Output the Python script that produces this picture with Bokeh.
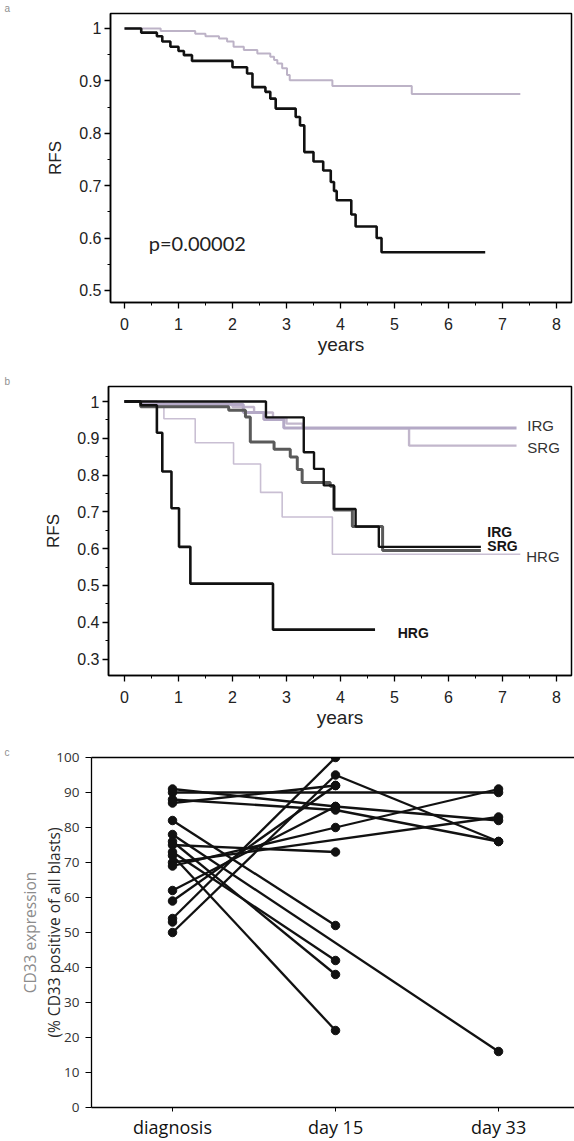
import math
from bokeh.plotting import figure
from bokeh.models import (Range1d, FixedTicker, Label, LinearAxis, Title,
                          ColumnDataSource, CustomJSTickFormatter)
from bokeh.embed import file_html
from bokeh.resources import INLINE
from bokeh.core.properties import value

# ---------------- data ----------------
# panel a : Kaplan-Meier RFS, two groups
a_high_years = [0, 0.31, 0.6, 0.7, 0.85, 1.0, 1.1, 1.25, 2.0, 2.27, 2.37, 2.61, 2.7, 2.8,
                3.17, 3.25, 3.33, 3.5, 3.68, 3.82, 3.88, 3.93, 4.2, 4.28, 4.67, 4.76, 6.68]
a_high_rfs = [1.0, 0.992, 0.985, 0.975, 0.965, 0.957, 0.949, 0.938, 0.926, 0.914, 0.888, 0.879,
              0.866, 0.847, 0.831, 0.815, 0.764, 0.746, 0.729, 0.707, 0.69, 0.672, 0.645, 0.622,
              0.6, 0.573, 0.573]
a_low_years = [0, 0.67, 1.31, 1.5, 1.75, 1.9, 2.02, 2.21, 2.46, 2.7, 2.77, 2.83, 2.92, 3.01,
               3.06, 3.85, 5.32, 7.33]
a_low_rfs = [1.0, 0.995, 0.99, 0.985, 0.981, 0.975, 0.965, 0.959, 0.952, 0.946, 0.94, 0.933,
             0.924, 0.911, 0.901, 0.89, 0.875, 0.875]
a_pvalue = "p=0.00002"
a_yticks = [0.5, 0.6, 0.7, 0.8, 0.9, 1.0]

# panel b : RFS by risk group (high / low CD33)
b_irg_high_years = [0, 2.62, 3.32, 3.51, 3.69, 3.88, 4.28, 4.71, 6.6]
b_irg_high_rfs = [1.0, 0.957, 0.862, 0.817, 0.772, 0.708, 0.66, 0.605, 0.605]
b_srg_high_years = [0, 0.3, 1.93, 2.24, 2.33, 2.77, 3.07, 3.2, 3.29, 3.81, 3.88, 4.22, 4.78, 6.6]
b_srg_high_rfs = [1.0, 0.986, 0.976, 0.958, 0.89, 0.87, 0.849, 0.815, 0.78, 0.77, 0.705, 0.66,
                  0.595, 0.595]
b_hrg_high_years = [0, 0.3, 0.6, 0.7, 0.87, 1.01, 1.22, 2.75, 4.64]
b_hrg_high_rfs = [1.0, 0.99, 0.915, 0.81, 0.71, 0.605, 0.505, 0.38, 0.38]
b_irg_low_years = [0, 0.3, 2.2, 2.58, 2.95, 7.26]
b_irg_low_rfs = [1.0, 0.992, 0.97, 0.951, 0.928, 0.928]
b_srg_low_years = [0, 0.6, 2.0, 2.4, 2.75, 3.0, 3.3, 5.27, 7.26]
b_srg_low_rfs = [1.0, 0.995, 0.985, 0.97, 0.955, 0.94, 0.927, 0.88, 0.88]
b_hrg_low_years = [0, 0.73, 1.31, 2.02, 2.52, 2.92, 3.85, 7.33]
b_hrg_low_rfs = [1.0, 0.953, 0.888, 0.83, 0.753, 0.686, 0.585, 0.585]
b_yticks = [0.3, 0.4, 0.5, 0.6, 0.7, 0.8, 0.9, 1.0]
b_label_text = ["IRG", "SRG", "IRG", "SRG", "HRG", "HRG"]
b_label_years = [7.46, 7.46, 6.72, 6.72, 7.44, 5.06]
b_label_rfs = [0.935, 0.875, 0.645, 0.607, 0.578, 0.37]

# panel c : CD33 expression per patient
c_timepoints = ["diagnosis", "day 15", "day 33"]
nan = float("nan")
c_diagnosis = [91, 90, 88, 87, 82, 78, 76, 73, 72, 75, 70, 69, 62, 59, 54, 53, 50]
c_day15 = [86, nan, 85, 92, 52, nan, 38, 42, 22, 73, nan, 80, 86, 92, 100, nan, 95]
c_day33 = [82, 90, 76, nan, nan, 16, nan, nan, nan, nan, 83, 91, nan, nan, nan, nan, 76]
c_yticks = [0, 10, 20, 30, 40, 50, 60, 70, 80, 90, 100]
c_ylabel_main = "(% CD33 positive of all blasts)"
c_ylabel_top = "CD33 expression"

# ---------------- styling helpers ----------------
FA = "Liberation Sans"
FC = "Open Sans"


def km_axes(p, yticks):
    p.xaxis.ticker = FixedTicker(ticks=list(range(0, 9)),
                                 minor_ticks=[i + 0.5 for i in range(0, 8)])
    p.yaxis.ticker = FixedTicker(ticks=yticks,
                                 minor_ticks=[t + 0.05 for t in yticks[:-1]])
    p.yaxis.formatter = CustomJSTickFormatter(
        code="return Math.abs(tick - 1) < 1e-9 ? '1' : tick.toFixed(1);")
    for ax in (p.xaxis[0], p.yaxis[0]):
        ax.major_tick_in = 0
        ax.major_tick_out = 6
        ax.minor_tick_in = 0
        ax.minor_tick_out = 3
        ax.axis_line_color = "black"
        ax.axis_line_width = 1.5
        ax.major_tick_line_color = "black"
        ax.major_tick_line_width = 1.3
        ax.minor_tick_line_color = "black"
        ax.major_label_text_font = FA
        ax.major_label_text_font_size = "16px"
        ax.major_label_text_color = "#222222"
        ax.axis_label_text_font = FA
        ax.axis_label_text_font_style = "normal"
        ax.axis_label_text_color = "#222222"
    p.xaxis.axis_label = "years"
    p.xaxis.axis_label_text_font_size = "19px"
    p.xaxis.major_label_standoff = 9
    p.xaxis.axis_label_standoff = 1
    p.yaxis.axis_label = "RFS"
    p.yaxis.axis_label_text_font_size = "17px"
    p.yaxis.major_label_standoff = 3
    p.yaxis.axis_label_standoff = 11
    p.grid.visible = False
    p.outline_line_color = "black"
    p.outline_line_width = 1.5
    p.background_fill_color = "white"
    p.border_fill_color = "white"


def panel_letter(p, letter, frame_left):
    p.add_layout(Title(text=letter, align="left", offset=4 - frame_left, standoff=0,
                       text_font=FA, text_font_size="10px", text_font_style="normal",
                       text_color="#8f8f8f"), "above")


# ---------------- panel a ----------------
pa = figure(width=574, height=373, x_range=Range1d(-0.259, 8.278),
            y_range=Range1d(0.477, 1.0285), output_backend="svg",
            toolbar_location=None, min_border_left=110, min_border_right=3,
            min_border_top=12, min_border_bottom=71)
km_axes(pa, a_yticks)
pa.step(a_low_years, a_low_rfs, mode="after", line_color="#bdb3c7", line_width=2)
pa.step(a_high_years, a_high_rfs, mode="after", line_color="#111111", line_width=2.6)
pa.add_layout(Label(x=0.45, y=0.59, text=a_pvalue, text_baseline="middle",
                    text_font="Lato", text_font_size="20px", text_color="#222222"))
panel_letter(pa, "a", 110)

# ---------------- panel b ----------------
pb = figure(width=574, height=360, x_range=Range1d(-0.296, 8.278),
            y_range=Range1d(0.2554, 1.0408), output_backend="svg",
            toolbar_location=None, min_border_left=108, min_border_right=3,
            min_border_top=13, min_border_bottom=58)
km_axes(pb, b_yticks)
pb.step(b_hrg_low_years, b_hrg_low_rfs, mode="after", line_color="#c9bfd3", line_width=1.6)
pb.step(b_srg_low_years, b_srg_low_rfs, mode="after", line_color="#c2b7cc", line_width=2.4)
pb.step(b_irg_low_years, b_irg_low_rfs, mode="after", line_color="#b4a9c6", line_width=3)
pb.step(b_srg_high_years, b_srg_high_rfs, mode="after", line_color="#5a5a5a", line_width=3)
pb.step(b_irg_high_years, b_irg_high_rfs, mode="after", line_color="#111111", line_width=2.4)
pb.step(b_hrg_high_years, b_hrg_high_rfs, mode="after", line_color="#111111", line_width=2.6)

normal_idx = [0, 1, 4]
bold_idx = [2, 3, 5]
src_n = ColumnDataSource(dict(x=[b_label_years[i] for i in normal_idx],
                              y=[b_label_rfs[i] for i in normal_idx],
                              t=[b_label_text[i] for i in normal_idx]))
src_b = ColumnDataSource(dict(x=[b_label_years[i] for i in bold_idx],
                              y=[b_label_rfs[i] for i in bold_idx],
                              t=[b_label_text[i] for i in bold_idx]))
pb.text(x="x", y="y", text="t", source=src_n, text_font=value(FA),
        text_font_size="15px", text_color="#333333", text_baseline="middle",
        text_align="left")
pb.text(x="x", y="y", text="t", source=src_b, text_font=value(FA),
        text_font_size="14px", text_font_style="bold", text_color="#151515",
        text_baseline="middle", text_align="left")
panel_letter(pb, "b", 108)

# ---------------- panel c ----------------
pc = figure(width=574, height=408, x_range=Range1d(-0.497, 2.466),
            y_range=Range1d(0, 100), output_backend="svg", toolbar_location=None,
            min_border_left=91, min_border_right=0, min_border_top=24,
            min_border_bottom=34)
pc.grid.visible = False
pc.outline_line_color = None

x0, y0, x1, y1 = [], [], [], []
px, py = [], []
for vals in zip(c_diagnosis, c_day15, c_day33):
    pts = [(i, v) for i, v in enumerate(vals) if not math.isnan(v)]
    for (xa_, ya_), (xb_, yb_) in zip(pts[:-1], pts[1:]):
        x0.append(xa_); y0.append(ya_); x1.append(xb_); y1.append(yb_)
    for xa_, ya_ in pts:
        px.append(xa_); py.append(ya_)

pc.segment(x0=x0, y0=y0, x1=x1, y1=y1, line_color="#111111", line_width=2.3)
pc.scatter(px, py, size=8.5, color="#111111")

xa = pc.xaxis[0]
xa.ticker = FixedTicker(ticks=[0, 1, 2])
xa.major_label_overrides = {i: lab for i, lab in enumerate(c_timepoints)}
xa.major_tick_in = 0
xa.major_tick_out = 4
xa.minor_tick_line_color = None
xa.major_label_standoff = 3
xa.major_label_text_font = FC
xa.major_label_text_font_size = "18px"
xa.major_label_text_color = "#111111"
xa.axis_line_color = "black"
xa.axis_line_width = 1.3

ya = pc.yaxis[0]
ya.ticker = FixedTicker(ticks=c_yticks)
ya.minor_tick_line_color = None
ya.major_tick_in = 0
ya.major_tick_out = 6
ya.major_label_standoff = 6
ya.major_label_text_font = FC
ya.major_label_text_font_size = "13.5px"
ya.major_label_text_color = "#333333"
ya.axis_line_color = "black"
ya.axis_line_width = 1.3
ya.axis_label = c_ylabel_main
ya.axis_label_text_font = FC
ya.axis_label_text_font_style = "normal"
ya.axis_label_text_font_size = "15.5px"
ya.axis_label_text_color = "#2a2a2a"
ya.axis_label_standoff = -12

ya2 = LinearAxis(ticker=FixedTicker(ticks=[]), axis_line_color=None,
                 major_tick_line_color=None, minor_tick_line_color=None,
                 major_tick_out=0, major_tick_in=0, major_label_standoff=0,
                 axis_label=c_ylabel_top, axis_label_text_font=FC,
                 axis_label_text_font_style="normal", axis_label_text_font_size="15.5px",
                 axis_label_text_color="#8c8c8c", axis_label_standoff=0)
pc.add_layout(ya2, "left")

top = LinearAxis(ticker=FixedTicker(ticks=[]), axis_line_color="black",
                 axis_line_width=1.3, major_tick_line_color=None,
                 minor_tick_line_color=None)
pc.add_layout(top, "above")
panel_letter(pc, "c", 91)

open("out.html", "w").write(file_html([pa, pb, pc], INLINE))
